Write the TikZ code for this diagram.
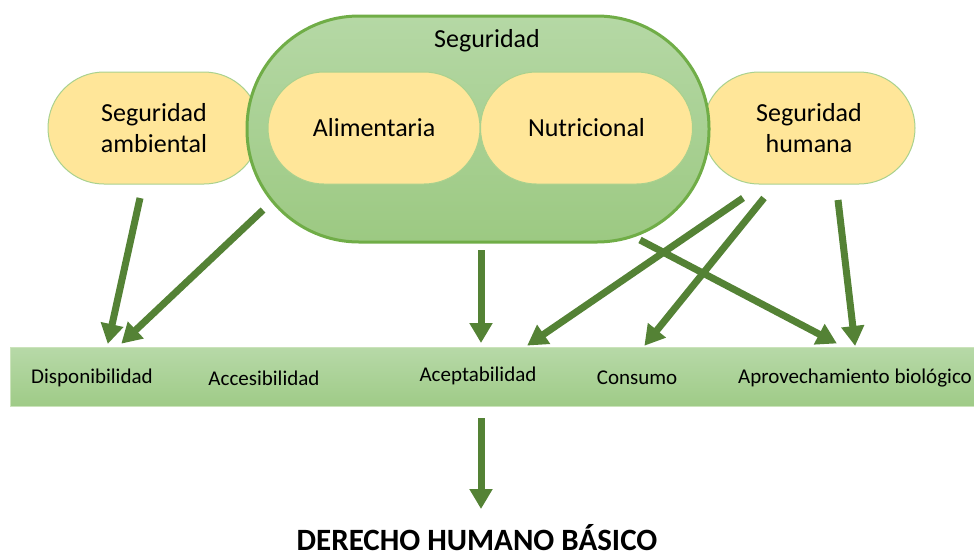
\documentclass[tikz,border=0pt]{standalone}
\usepackage{fontspec}
\setmainfont{Carlito}
\usetikzlibrary{arrows.meta}
\definecolor{pillyel}{HTML}{FFE699}
\definecolor{pillyelb}{HTML}{A9D18E}
\definecolor{bigtop}{HTML}{B5D8A5}
\definecolor{bigbot}{HTML}{9CC982}
\definecolor{bigb}{HTML}{70AD47}
\definecolor{bartop}{HTML}{B7D9A8}
\definecolor{barbot}{HTML}{9FCB87}
\definecolor{arrowg}{HTML}{548235}
\tikzset{
  yelpill/.style={draw=pillyelb, line width=1pt, fill=pillyel, rectangle, rounded corners=56pt,
    minimum width=212pt, minimum height=112pt, inner sep=0pt, align=center,
    font=\fontsize{26}{32}\selectfont},
  bigpill/.style={draw=bigb, line width=3pt, top color=bigtop, bottom color=bigbot, rectangle,
    rounded corners=112pt, minimum width=462pt, minimum height=226pt, inner sep=0pt},
  barbox/.style={draw=pillyelb!60, line width=0.6pt, top color=bartop, bottom color=barbot, rectangle,
    minimum width=966pt, minimum height=59pt, inner sep=0pt},
  barlbl/.style={font=\fontsize{21}{25}\selectfont, inner sep=0pt},
  bigarrow/.style={draw=arrowg, line width=7pt, -{Triangle[length=20pt,width=22pt]}, shorten >=-1pt},
}
\begin{document}
\begin{tikzpicture}[x=1pt,y=-1pt]
\useasboundingbox (0,0) rectangle (974,558);
% side pills (drawn under the big pill)
\node[yelpill] (amb) at (154,128) {Seguridad\\[-1pt]ambiental};
\node[yelpill] (hum) at (809,128) {Seguridad\\[-1pt]humana};
% big pill
\node[bigpill] (seg) at (478,129) {};
\node[font=\fontsize{26}{32}\selectfont, inner sep=0pt] (segt) at (487,41) {Seguridad};
\node[yelpill] (ali) at (374,128) {Alimentaria};
\node[yelpill] (nut) at (586.5,128) {Nutricional};
% bar
\node[barbox] (bar) at (493,376.5) {};
\node[barlbl] (disp) at (92,378) {Disponibilidad};
\node[barlbl] (acc) at (264,378) {Accesibilidad};
\node[barlbl] (acep) at (478,376) {Aceptabilidad};
\node[barlbl] (cons) at (637,378) {Consumo};
\node[barlbl] (apro) at (855,378) {Aprovechamiento biológico};
% title
\node[font=\fontsize{31}{36}\selectfont\bfseries, inner sep=0pt, anchor=base] (der) at (477,550) {DERECHO HUMANO BÁSICO};
% arrow endpoints
\coordinate (a1s) at (140,198); \coordinate (a1e) at (108,343);
\coordinate (a2s) at (263,210); \coordinate (a2e) at (122,343);
\coordinate (a3s) at (481,250); \coordinate (a3e) at (481,342);
\coordinate (a4s) at (743,198); \coordinate (a4e) at (528,345);
\coordinate (a5s) at (764,198); \coordinate (a5e) at (645,345);
\coordinate (a6s) at (640,240); \coordinate (a6e) at (836,343);
\coordinate (a7s) at (838,200); \coordinate (a7e) at (855,345);
\coordinate (a8s) at (481,418); \coordinate (a8e) at (481,508);
\draw[bigarrow] (a1s) -- (a1e);
\draw[bigarrow] (a2s) -- (a2e);
\draw[bigarrow] (a3s) -- (a3e);
\draw[bigarrow] (a4s) -- (a4e);
\draw[bigarrow] (a5s) -- (a5e);
\draw[bigarrow] (a6s) -- (a6e);
\draw[bigarrow] (a7s) -- (a7e);
\draw[bigarrow] (a8s) -- (a8e);
\end{tikzpicture}
\end{document}
